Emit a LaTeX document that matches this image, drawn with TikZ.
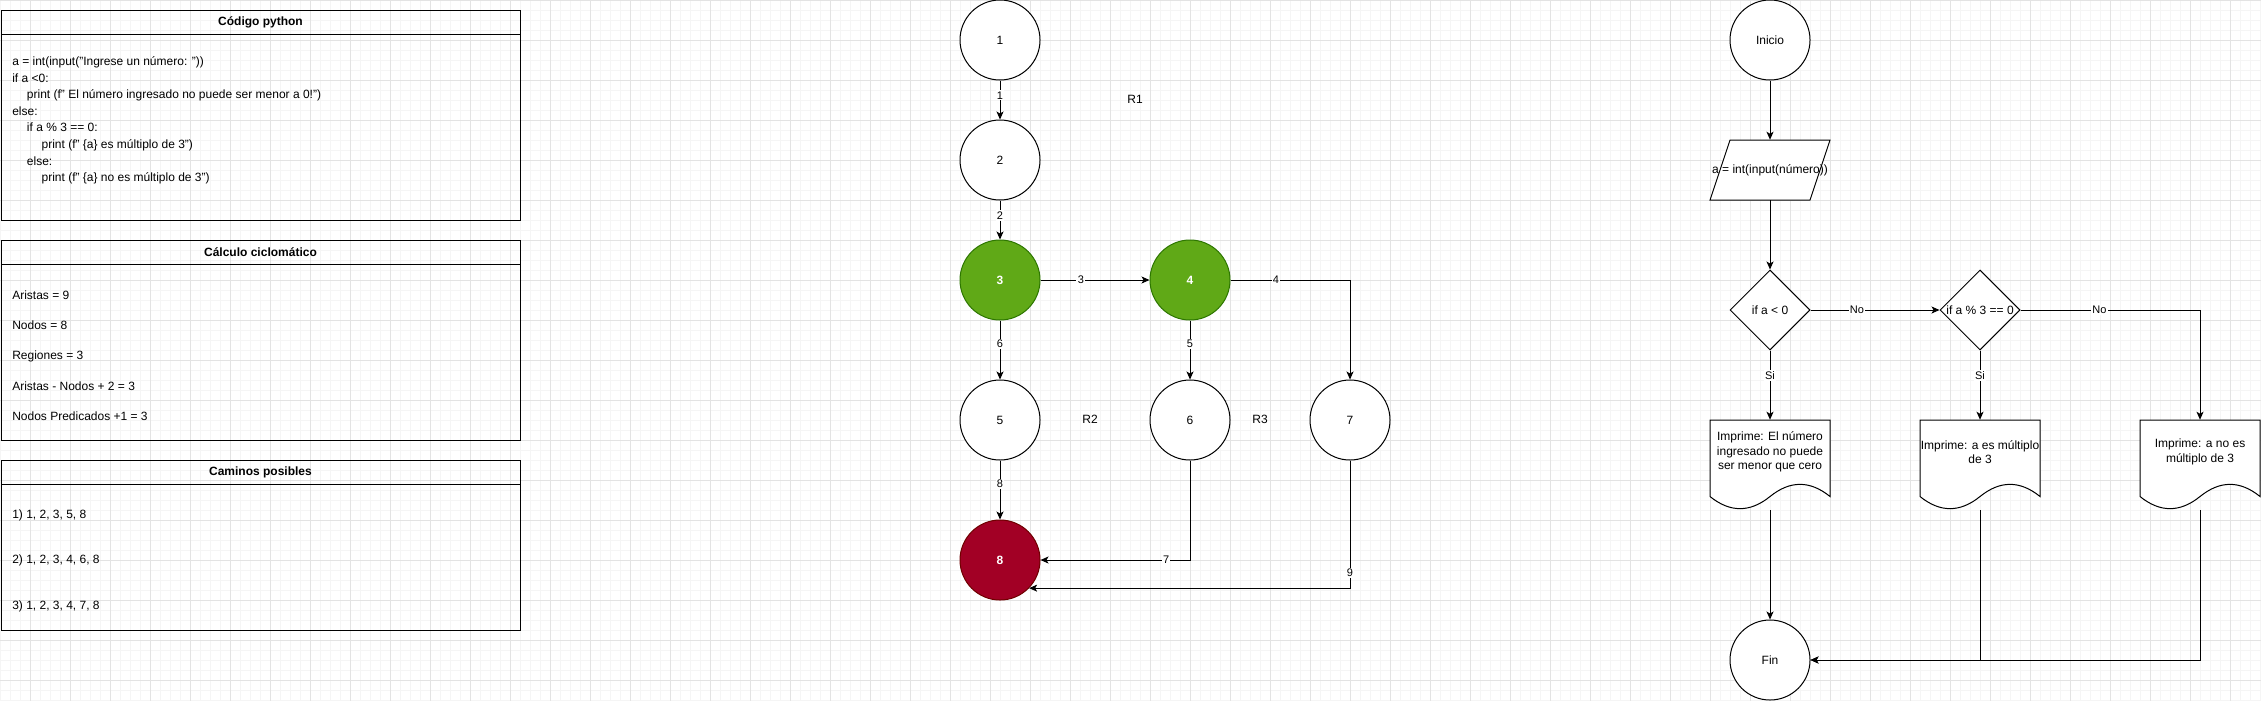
\documentclass[tikz,border=0pt]{standalone}
\usepackage{fontspec}
\setmainfont{Liberation Sans}
\usetikzlibrary{arrows.meta,shapes.geometric}

\definecolor{gridminor}{HTML}{F5F5F5}
\definecolor{gridmajor}{HTML}{E3E3E3}
\definecolor{predgreen}{HTML}{60A917}
\definecolor{predgreenline}{HTML}{2D7600}
\definecolor{endred}{HTML}{A20025}
\definecolor{endredline}{HTML}{6F0000}

\newcommand{\diagfont}{\fontsize{9}{11}\selectfont}
\newcommand{\edgefont}{\fontsize{8.25}{10}\selectfont}

% documento con borde ondulado: nombre, x centro, y arriba, texto
\newcommand{\docnode}[4]{%
  \draw[shapeline] (#2-60,#3) -- (#2+60,#3) -- (#2+60,#3+76.5)
    .. controls (#2+40,#3+60.3) and (#2+20,#3+60.3) .. (#2,#3+76.5)
    .. controls (#2-20,#3+92.7) and (#2-40,#3+92.7) .. (#2-60,#3+76.5) -- cycle;
  \node[docbox] (#1) at (#2,#3+45) {};
  \node[doctext] (#1-txt) at (#2,#3+32) {#4};
}

% entrada/salida: nombre, x centro, y centro, texto
\newcommand{\ionode}[4]{%
  \draw[shapeline] (#2-40,#3-30) -- (#2+60,#3-30) -- (#2+40,#3+30) -- (#2-60,#3+30) -- cycle;
  \node[iobox] (#1) at (#2,#3) {\makebox[0pt]{#4}};
}

\tikzset{
  shapeline/.style={draw, fill=white, line width=0.75pt},
  panelline/.style={draw, line width=0.75pt},
  paneltitle/.style={font=\diagfont\bfseries, inner sep=0pt},
  paneltext/.style={align=left, anchor=west, inner sep=1.5pt},
  vertex/.style={circle, shapeline, minimum size=60pt, inner sep=0pt, font=\diagfont},
  predvertex/.style={vertex, fill=predgreen, draw=predgreenline, text=white, font=\diagfont\bfseries},
  endvertex/.style={vertex, fill=endred, draw=endredline, text=white, font=\diagfont\bfseries},
  region/.style={font=\diagfont, inner sep=0pt},
  terminal/.style={vertex},
  iobox/.style={rectangle, minimum width=90pt, minimum height=45pt, inner sep=0pt, font=\diagfont},
  decision/.style={diamond, shapeline, aspect=1, minimum width=60pt, minimum height=60pt,
    inner sep=0pt, font=\diagfont},
  docbox/.style={rectangle, minimum width=90pt, minimum height=67.5pt, inner sep=0pt},
  doctext/.style={align=center, font=\diagfont, inner sep=0pt},
  edgelabel/.style={fill=white, inner sep=1pt, font=\edgefont},
  flow/.style={line width=0.75pt, -{Stealth[length=6pt,width=5.25pt,inset=1.5pt]},
    every node/.style={edgelabel}},
}

\begin{document}
\begin{tikzpicture}[x=0.75pt, y=-0.75pt]
  \useasboundingbox (0,0) rectangle (2261,701);
  \fill[white] (0,0) rectangle (2261,701);

  % cuadricula
  \foreach \gx in {0,10,...,2260} \draw[gridminor, line width=0.75pt] (\gx,0) -- (\gx,701);
  \foreach \gy in {0,10,...,700} \draw[gridminor, line width=0.75pt] (0,\gy) -- (2261,\gy);
  \foreach \gx in {30,70,...,2250} \draw[gridmajor, line width=0.75pt] (\gx,0) -- (\gx,701);
  \foreach \gy in {0,40,...,680} \draw[gridmajor, line width=0.75pt] (0,\gy) -- (2261,\gy);

  % paneles de texto
  \draw[panelline] (1,10) rectangle (520,220);
  \draw[panelline] (1,34) -- (520,34);
  \node[paneltitle] (codetitle) at (260.5,22) {Código python};
  \node[paneltext, font=\fontsize{9}{12.4}\selectfont] (codetext) at (10,120.5)
    {a = int(input("Ingrese un número: "))\\
     if a <0:\\
     \hspace*{11pt}print (f" El número ingresado no puede ser menor a 0!")\\
     else:\\
     \hspace*{11pt}if a \% 3 == 0:\\
     \hspace*{22pt}print (f" \{a\} es múltiplo de 3")\\
     \hspace*{11pt}else:\\
     \hspace*{22pt}print (f" \{a\} no es múltiplo de 3")};

  \draw[panelline] (1,240) rectangle (520,440);
  \draw[panelline] (1,264) -- (520,264);
  \node[paneltitle] (calctitle) at (260.5,252) {Cálculo ciclomático};
  \node[paneltext, font=\fontsize{9}{22.7}\selectfont] (calctext) at (10,355.5)
    {Aristas = 9\\ Nodos = 8\\ Regiones = 3\\ Aristas - Nodos + 2 = 3\\ Nodos Predicados +1 = 3};

  \draw[panelline] (1,460) rectangle (520,630);
  \draw[panelline] (1,484) -- (520,484);
  \node[paneltitle] (pathtitle) at (260.5,472) {Caminos posibles};
  \node[paneltext, font=\fontsize{9}{34.1}\selectfont] (pathtext) at (10,560.5)
    {1) 1, 2, 3, 5, 8\\ 2) 1, 2, 3, 4, 6, 8\\ 3) 1, 2, 3, 4, 7, 8};

  % grafo de flujo
  \node[vertex] (n1) at (1000,40) {1};
  \node[vertex] (n2) at (1000,160) {2};
  \node[predvertex] (n3) at (1000,280) {3};
  \node[predvertex] (n4) at (1190,280) {4};
  \node[vertex] (n5) at (1000,420) {5};
  \node[vertex] (n6) at (1190,420) {6};
  \node[vertex] (n7) at (1350,420) {7};
  \node[endvertex] (n8) at (1000,560) {8};

  \node[region] (r1) at (1135,99) {R1};
  \node[region] (r2) at (1090,419) {R2};
  \node[region] (r3) at (1260,419) {R3};

  \path[flow]
    (n1) edge node[pos=0.38] {1} (n2)
    (n2) edge node[pos=0.38] {2} (n3)
    (n3) edge node[pos=0.37] {3} (n4)
         edge node[pos=0.4] {6} (n5)
    (n4) edge node[pos=0.4] {5} (n6)
    (n5) edge node[pos=0.4] {8} (n8);
  \draw[flow] (n4) -| node[pos=0.19] {4} (n7);
  \draw[flow] (n6) |- node[pos=0.58] {7} (n8);
  \draw[flow] (n7) |- node[pos=0.44] {9} (n8.-44.4);

  % diagrama de flujo
  \node[terminal] (ini) at (1770,40) {Inicio};
  \ionode{io}{1770}{170}{a = int(input(número))}
  \node[decision] (d1) at (1770,310) {\makebox[0pt]{if a < 0}};
  \node[decision] (d2) at (1980,310) {\makebox[0pt]{if a \% 3 == 0}};
  \docnode{doc1}{1770}{420}{Imprime: El número\\ingresado no puede\\ser menor que cero}
  \docnode{doc2}{1980}{420}{Imprime: a es múltiplo\\de 3}
  \docnode{doc3}{2200}{420}{Imprime: a no es\\múltiplo de 3}
  \node[terminal] (fin) at (1770,660) {Fin};

  \path[flow]
    (ini) edge (io)
    (io) edge (d1)
    (d1) edge node[pos=0.36] {No} (d2)
         edge node[pos=0.36] {Si} (doc1)
    (d2) edge node[pos=0.36] {Si} (doc2)
    (doc1) edge (fin);
  \draw[flow] (d2) -| node[pos=0.22] {No} (doc3);
  \draw[flow] (doc2) |- (fin);
  \draw[flow] (doc3) |- (fin);
\end{tikzpicture}
\end{document}
